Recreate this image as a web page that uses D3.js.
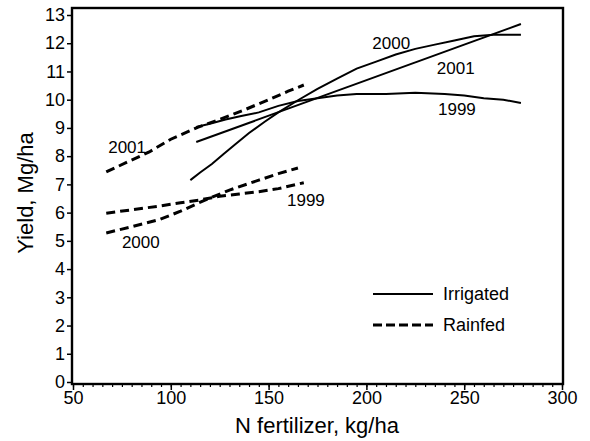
<!DOCTYPE html>
<meta charset="utf-8">
<style>
  body { margin: 0; background: #fff; }
  svg text { font-family: "Liberation Sans", Arial, sans-serif; fill: #000; }
</style>
<svg width="590" height="441"></svg>
<script src="https://d3js.org/d3.v7.min.js"></script>
<script>

// N rate (kg/ha) and yield (Mg/ha)
var irr1999N = [113, 120, 128, 136, 145, 155, 165, 175, 185, 195, 210, 225, 240, 250, 260, 270, 279];
var irr1999Y = [9.03, 9.15, 9.3, 9.42, 9.55, 9.78, 9.95, 10.05, 10.15, 10.2, 10.2, 10.25, 10.2, 10.15, 10.05, 10.0, 9.88];

var irr2000N = [110, 115, 121, 127, 133, 140, 148, 155, 165, 175, 185, 195, 205, 215, 225, 235, 245, 255, 265, 279];
var irr2000Y = [7.15, 7.42, 7.72, 8.08, 8.42, 8.82, 9.22, 9.55, 9.98, 10.38, 10.75, 11.1, 11.35, 11.6, 11.8, 11.95, 12.1, 12.25, 12.3, 12.3];

var irr2001N = [113, 279];
var irr2001Y = [8.5, 12.68];

var rain1999N = [67, 80, 94, 105, 115, 125, 135, 145, 155, 168];
var rain1999Y = [5.98, 6.1, 6.23, 6.35, 6.45, 6.58, 6.66, 6.74, 6.85, 7.06];

var rain2000N = [67, 80, 94, 105, 116, 130, 145, 155, 165];
var rain2000Y = [5.28, 5.5, 5.75, 6.05, 6.4, 6.8, 7.15, 7.38, 7.58];

var rain2001N = [67, 78, 89, 100, 114, 125, 138, 150, 160, 168];
var rain2001Y = [7.44, 7.8, 8.15, 8.6, 9.03, 9.3, 9.65, 10.0, 10.3, 10.52];

// year labels: [text, N, yield]
var yearLabels = [
  ["2000", 203, 11.8], ["2001", 236, 10.91], ["1999", 236.6, 9.46],
  ["2001", 68, 8.11], ["1999", 159.4, 6.23], ["2000", 75, 4.75]
];

var xTicks = [50, 100, 150, 200, 250, 300];
var yTicks = d3.range(0, 14);

var svg = d3.select("svg");

var x = d3.scaleLinear().domain([50, 300]).range([73, 562]);
var y = d3.scaleLinear().domain([0, 13]).range([382, 15]);

function pts(n, v) { return n.map(function(d, i) { return [d, v[i]]; }); }

var line = d3.line()
    .x(function(d) { return x(d[0]); })
    .y(function(d) { return y(d[1]); });

// frame
svg.append("rect")
    .attr("x", 72).attr("y", 8)
    .attr("width", 491).attr("height", 376)
    .attr("fill", "none")
    .attr("stroke", "#000")
    .attr("stroke-width", 2.4);

// y axis
var yAxis = svg.append("g")
    .attr("transform", "translate(72,0)")
    .call(d3.axisLeft(y).tickValues(yTicks).tickSize(5).tickPadding(2));
yAxis.select(".domain").remove();
yAxis.selectAll("line").attr("stroke-width", 1.5);
yAxis.selectAll("text").style("font-size", "18px").attr("font-family", null);

// x axis: minor ticks every 5
var xMinor = svg.append("g")
    .attr("transform", "translate(0,384)")
    .call(d3.axisBottom(x).tickValues(d3.range(50, 301, 5)).tickSize(3).tickFormat(""));
xMinor.select(".domain").remove();
xMinor.selectAll("line").attr("stroke-width", 1.2);

var xAxis = svg.append("g")
    .attr("transform", "translate(0,384)")
    .call(d3.axisBottom(x).tickValues(xTicks).tickSize(6).tickPadding(1));
xAxis.select(".domain").remove();
xAxis.selectAll("line").attr("stroke-width", 1.5);
xAxis.selectAll("text").style("font-size", "18px").attr("font-family", null);

svg.append("text")
    .attr("x", 317).attr("y", 433)
    .attr("text-anchor", "middle")
    .style("font-size", "22px")
    .text("N fertilizer, kg/ha");

svg.append("text")
    .attr("transform", "translate(33,193) rotate(-90)")
    .attr("text-anchor", "middle")
    .style("font-size", "22px")
    .text("Yield, Mg/ha");

// irrigated: solid
[[irr1999N, irr1999Y], [irr2000N, irr2000Y], [irr2001N, irr2001Y]].forEach(function(s) {
  svg.append("path")
      .attr("d", line(pts(s[0], s[1])))
      .attr("fill", "none")
      .attr("stroke", "#000")
      .attr("stroke-width", 2);
});

// rainfed: dashed
[[rain1999N, rain1999Y], [rain2000N, rain2000Y], [rain2001N, rain2001Y]].forEach(function(s) {
  svg.append("path")
      .attr("d", line(pts(s[0], s[1])))
      .attr("fill", "none")
      .attr("stroke", "#000")
      .attr("stroke-width", 3)
      .attr("stroke-dasharray", "9,5");
});

svg.selectAll(".yr")
  .data(yearLabels)
  .enter().append("text")
    .attr("class", "yr")
    .attr("x", function(d) { return x(d[1]); })
    .attr("y", function(d) { return y(d[2]); })
    .style("font-size", "17px")
    .text(function(d) { return d[0]; });

// legend
var leg = svg.append("g");
leg.append("line")
    .attr("x1", 373).attr("x2", 433).attr("y1", 294).attr("y2", 294)
    .attr("stroke", "#000").attr("stroke-width", 2);
leg.append("line")
    .attr("x1", 373).attr("x2", 433).attr("y1", 325).attr("y2", 325)
    .attr("stroke", "#000").attr("stroke-width", 3).attr("stroke-dasharray", "9,4");
leg.append("text").attr("x", 443).attr("y", 300).style("font-size", "18px").text("Irrigated");
leg.append("text").attr("x", 443).attr("y", 331).style("font-size", "18px").text("Rainfed");

</script>
